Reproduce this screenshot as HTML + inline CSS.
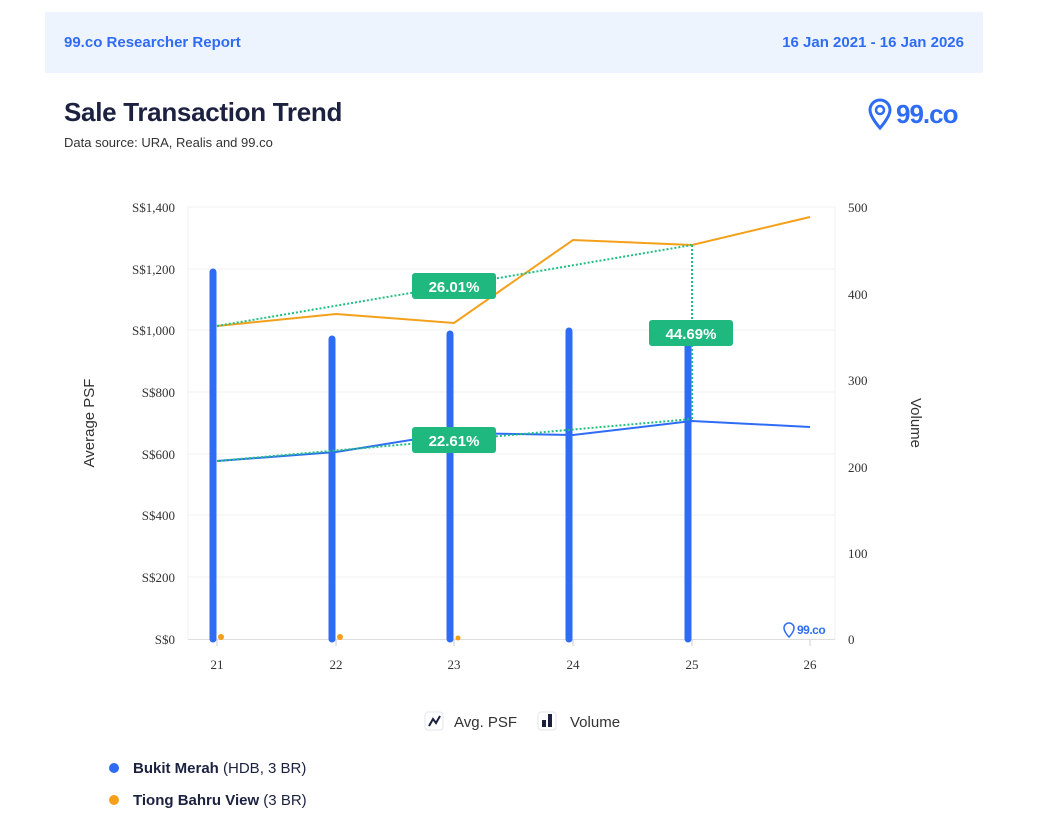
<!DOCTYPE html>
<html><head><meta charset="utf-8"><style>
body{margin:0;width:1042px;height:836px;background:#fff;font-family:"Liberation Sans",sans-serif;position:relative;overflow:hidden}
.t{position:absolute;white-space:nowrap}
</style></head><body>
<div style="position:absolute;left:45px;top:12px;width:938px;height:61px;background:#eef4fd"></div>
<div class="t" style="left:64px;top:34px;font-size:15px;font-weight:bold;color:#2f6cf5">99.co Researcher Report</div>
<div class="t" style="right:78px;top:34px;font-size:15px;font-weight:bold;color:#2f6cf5">16 Jan 2021 - 16 Jan 2026</div>
<div class="t" style="left:64px;top:97px;font-size:26px;font-weight:bold;color:#1c2140;letter-spacing:-0.3px">Sale Transaction Trend</div>
<div class="t" style="left:64px;top:135px;font-size:13px;color:#333">Data source: URA, Realis and 99.co</div>
<svg style="position:absolute;left:866px;top:96px" width="110" height="36">
<path d="M14 4 a10 10 0 0 1 10 10 c0 7 -10 18 -10 18 c0 0 -10 -11 -10 -18 a10 10 0 0 1 10 -10z" fill="none" stroke="#2f6cf5" stroke-width="3"/>
<circle cx="14" cy="14" r="4" fill="none" stroke="#2f6cf5" stroke-width="2.5"/>
<text x="30" y="27" font-size="26" font-weight="bold" fill="#2f6cf5" font-family="Liberation Sans" letter-spacing="-1">99.co</text>
</svg>
<svg style="position:absolute;left:0;top:0" width="1042" height="836">
<g stroke="#f2f2f2" stroke-width="1">
<line x1="188" y1="207" x2="835" y2="207"/><line x1="188" y1="269" x2="835" y2="269"/><line x1="188" y1="330" x2="835" y2="330"/><line x1="188" y1="392" x2="835" y2="392"/><line x1="188" y1="454" x2="835" y2="454"/><line x1="188" y1="515" x2="835" y2="515"/><line x1="188" y1="577" x2="835" y2="577"/>
<line x1="188" y1="207" x2="188" y2="639"/><line x1="835" y1="207" x2="835" y2="639"/>
</g>
<line x1="188" y1="639.5" x2="835" y2="639.5" stroke="#ddd"/>
<g stroke="#ccc"><line x1="217" y1="640" x2="217" y2="646"/><line x1="336" y1="640" x2="336" y2="646"/><line x1="454" y1="640" x2="454" y2="646"/><line x1="573" y1="640" x2="573" y2="646"/><line x1="692" y1="640" x2="692" y2="646"/><line x1="810" y1="640" x2="810" y2="646"/></g>
<g font-family="Liberation Serif" font-size="13" fill="#333" text-anchor="end">
<text x="175" y="212">S$1,400</text><text x="175" y="274">S$1,200</text><text x="175" y="335">S$1,000</text><text x="175" y="397">S$800</text><text x="175" y="459">S$600</text><text x="175" y="520">S$400</text><text x="175" y="582">S$200</text><text x="175" y="644">S$0</text>
</g>
<g font-family="Liberation Serif" font-size="13" fill="#333">
<text x="848" y="212">500</text><text x="848" y="299">400</text><text x="848" y="385">300</text><text x="848" y="472">200</text><text x="848" y="558">100</text><text x="848" y="644">0</text>
</g>
<g font-family="Liberation Serif" font-size="13" fill="#333" text-anchor="middle">
<text x="217" y="669">21</text><text x="336" y="669">22</text><text x="454" y="669">23</text><text x="573" y="669">24</text><text x="692" y="669">25</text><text x="810" y="669">26</text>
</g>
<text transform="translate(94,423) rotate(-90)" font-size="15" fill="#333" text-anchor="middle">Average PSF</text>
<text transform="translate(911,423) rotate(90)" font-size="15" fill="#333" text-anchor="middle">Volume</text>
<g stroke="#2f6cf5" stroke-width="7" stroke-linecap="round">
<line x1="213" y1="272" x2="213" y2="639"/><line x1="332" y1="339" x2="332" y2="639"/><line x1="450" y1="334" x2="450" y2="639"/><line x1="569" y1="331" x2="569" y2="639"/><line x1="688" y1="338" x2="688" y2="639"/>
</g>
<g fill="#f59e1b"><circle cx="221" cy="637" r="3"/><circle cx="340" cy="637" r="3"/><circle cx="458" cy="638" r="2.5"/></g>
<polyline points="217,326 336,314 454,323 573,240 692,245 810,217" fill="none" stroke="#f5a01a" stroke-width="2"/>
<polyline points="217,461 336,452 454,433 573,435 692,421 810,427" fill="none" stroke="#2f6cf5" stroke-width="2"/>
<g stroke="#1fbf7f" stroke-width="2" stroke-dasharray="2,2" fill="none">
<line x1="217" y1="326" x2="692" y2="245"/><line x1="692" y1="245" x2="692" y2="421"/><line x1="217" y1="461" x2="692" y2="419"/>
</g>
<g font-size="15" font-weight="bold" fill="#fff" text-anchor="middle">
<rect x="412" y="273" width="84" height="26" rx="3" fill="#1fb97f"/><text x="454" y="292">26.01%</text>
<rect x="649" y="320" width="84" height="26" rx="3" fill="#1fb97f"/><text x="691" y="339">44.69%</text>
<rect x="412" y="427" width="84" height="26" rx="3" fill="#1fb97f"/><text x="454" y="446">22.61%</text>
</g>
<path d="M789 623 a5 5 0 0 1 5 5 c0 4 -5 9 -5 9 c0 0 -5 -5 -5 -9 a5 5 0 0 1 5 -5z" fill="none" stroke="#2f6cf5" stroke-width="1.5"/>
<text x="797" y="634" font-size="12" font-weight="bold" fill="#2f6cf5" letter-spacing="-0.5">99.co</text>
<rect x="425" y="712" width="18" height="18" rx="3" fill="#fff" stroke="#e3e6ee"/>
<polyline points="429,726 433,719 436,723 440,716" fill="none" stroke="#1c2140" stroke-width="2"/>
<text x="454" y="727" font-size="15" fill="#333">Avg. PSF</text>
<rect x="538" y="712" width="18" height="18" rx="3" fill="#fff" stroke="#e3e6ee"/>
<rect x="542" y="720" width="4" height="7" fill="#1c2140"/><rect x="548" y="714" width="4" height="13" fill="#1c2140"/>
<text x="570" y="727" font-size="15" fill="#333">Volume</text>
<circle cx="114" cy="768" r="5" fill="#2f6cf5"/>
<circle cx="114" cy="800" r="5" fill="#f5a01a"/>
<text x="133" y="773" font-size="15" fill="#1c2140"><tspan font-weight="bold">Bukit Merah</tspan> (HDB, 3 BR)</text>
<text x="133" y="805" font-size="15" fill="#1c2140"><tspan font-weight="bold">Tiong Bahru View</tspan> (3 BR)</text>
</svg>
</body></html>
